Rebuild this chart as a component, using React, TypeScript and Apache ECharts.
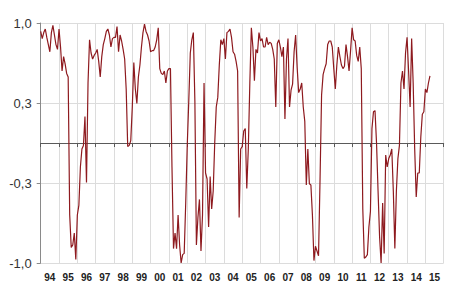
import React, { useEffect, useRef } from "react";
import * as echarts from "echarts";

const startYear = 1994;
const yearLabels = ["94","95","96","97","98","99","00","01","02","03","04","05","06","07","08","09","10","11","12","13","14","15"];
const yTicks = [-1, 1];

// Monthly values, Jan 1994 .. Apr 2015
const v1994 = [0.93, 0.87, 0.92, 0.95, 0.88, 0.82, 0.76, 0.92, 0.98, 0.9, 0.82, 0.78];
const v1995 = [0.95, 0.8, 0.6, 0.72, 0.66, 0.58, 0.55, -0.6, -0.87, -0.85, -0.75, -0.97];
const v1996 = [-0.6, -0.52, -0.2, -0.05, -0.02, 0.22, -0.33, 0.5, 0.86, 0.75, 0.7, 0.73];
const v1997 = [0.75, 0.78, 0.68, 0.55, 0.72, 0.82, 0.87, 0.93, 0.95, 0.9, 0.8, 0.87];
const v1998 = [0.88, 0.88, 0.97, 0.76, 0.9, 0.85, 0.78, 0.7, 0.45, -0.03, -0.02, 0.02];
const v1999 = [0.3, 0.67, 0.45, 0.33, 0.55, 0.65, 0.8, 0.92, 0.99, 0.93, 0.9, 0.85];
const v2000 = [0.76, 0.77, 0.77, 0.8, 0.86, 0.96, 0.62, 0.58, 0.57, 0.6, 0.5, 0.6];
const v2001 = [0.62, 0.62, -0.2, -0.88, -0.75, -0.88, -0.6, -0.85, -1.0, -0.93, -0.92, -0.5];
const v2002 = [-0.02, 0.35, 0.75, 0.86, 0.92, 0.35, -0.85, -0.62, -0.47, -0.9, -0.6, 0.5];
const v2003 = [-0.25, -0.3, -0.7, -0.28, -0.55, -0.4, 0.0, 0.3, 0.38, 0.65, 0.86, 0.82];
const v2004 = [0.87, 0.7, 0.92, 0.93, 0.95, 0.88, 0.76, 0.74, 0.68, 0.6, -0.62, -0.05];
const v2005 = [-0.03, 0.1, 0.12, -0.38, -0.05, 0.5, 0.96, 0.8, 0.52, 0.78, 0.75, 0.92];
const v2006 = [0.85, 0.87, 0.8, 0.8, 0.88, 0.82, 0.84, 0.83, 0.78, 0.7, 0.3, 0.83];
const v2007 = [0.86, 0.8, 0.72, 0.8, 0.2, 0.7, 0.87, 0.3, 0.44, 0.49, 0.76, 0.9];
const v2008 = [0.63, 0.42, 0.45, 0.5, 0.3, 0.18, -0.35, -0.05, -0.34, -0.35, -0.6, -0.98];
const v2009 = [-0.86, -0.9, -0.94, -0.3, 0.4, 0.57, 0.62, 0.66, 0.82, 0.85, 0.85, 0.8];
const v2010 = [0.62, 0.45, 0.65, 0.8, 0.72, 0.65, 0.62, 0.64, 0.82, 0.72, 0.6, 0.77];
const v2011 = [0.96, 0.86, 0.85, 0.73, 0.68, 0.8, 0.62, -0.55, -0.96, -0.95, -0.93, -0.7];
const v2012 = [-0.57, 0.12, 0.26, 0.27, 0.0, -0.4, -0.78, -1.0, -0.5, -0.92, -0.1, -0.2];
const v2013 = [-0.13, -0.1, -0.05, -0.4, -0.88, -0.4, -0.13, -0.02, 0.5, 0.6, 0.45, 0.75];
const v2014 = [0.88, 0.6, 0.3, 0.87, 0.5, -0.05, -0.45, -0.25, -0.25, 0.05, 0.24, 0.26];
const v2015 = [0.45, 0.42, 0.5, 0.56];

const values = [
  ...v1994, ...v1995, ...v1996, ...v1997, ...v1998, ...v1999, ...v2000, ...v2001,
  ...v2002, ...v2003, ...v2004, ...v2005, ...v2006, ...v2007, ...v2008, ...v2009,
  ...v2010, ...v2011, ...v2012, ...v2013, ...v2014, ...v2015,
];

export default function App() {
  const ref = useRef<HTMLDivElement>(null);
  useEffect(() => {
    if (!ref.current) return;
    const chart = echarts.init(ref.current, undefined, { renderer: "svg" });
    const seriesData = values.map((v, i) => [startYear + i / 12, v]);
    chart.setOption({
      animation: false,
      backgroundColor: "#ffffff",
      grid: { left: 40.7, right: 6.3, top: 23, bottom: 28, containLabel: false },
      xAxis: [
        {
          type: "category",
          data: yearLabels,
          boundaryGap: true,
          position: "bottom",
          axisLine: { show: false, onZero: false },
          axisTick: { show: false },
          axisLabel: {
            color: "#222",
            fontSize: 10,
            fontWeight: "bold",
            fontFamily: "Liberation Sans, Arial, sans-serif",
            margin: 9,
            interval: 0,
          },
          splitLine: { show: true, lineStyle: { color: "#dcdcdc", width: 1 } },
        },
        {
          type: "value",
          min: startYear,
          max: startYear + yearLabels.length,
          interval: 1,
          position: "bottom",
          axisLine: { show: true, onZero: true, lineStyle: { color: "#5a5a5a", width: 1 } },
          axisTick: { show: true, length: 4, lineStyle: { color: "#5a5a5a" } },
          axisLabel: { show: false },
          splitLine: { show: false },
        },
      ],
      yAxis: {
        type: "value",
        min: yTicks[0],
        max: yTicks[1],
        interval: 2 / 3,
        axisLine: { show: true, onZero: false, lineStyle: { color: "#8a8a8a" } },
        axisTick: { show: true, length: 4, lineStyle: { color: "#8a8a8a" } },
        axisLabel: {
          color: "#333",
          fontSize: 13,
          fontFamily: "Liberation Sans, Arial, sans-serif",
          margin: 9,
          formatter: (v: number) => v.toFixed(1).replace(".", ","),
        },
        splitLine: { show: true, lineStyle: { color: "#dcdcdc", width: 1 } },
      },
      series: [
        {
          type: "line",
          xAxisIndex: 1,
          data: seriesData,
          showSymbol: false,
          symbol: "none",
          lineStyle: { color: "#8e1a1f", width: 1.2 },
        },
      ],
    });
    return () => chart.dispose();
  }, []);
  return <div ref={ref} style={{ position: "fixed", left: 0, top: 0, width: 450, height: 291 }} />;
}
